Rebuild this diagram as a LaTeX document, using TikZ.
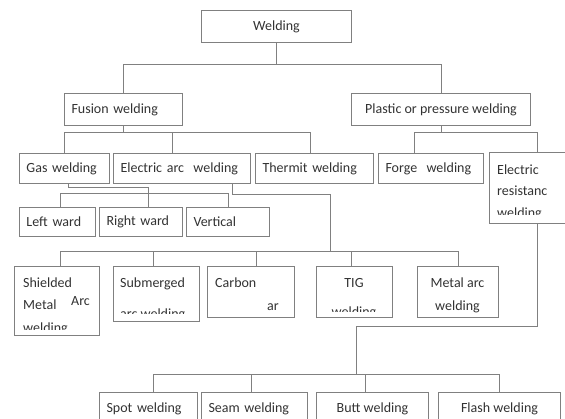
\documentclass[tikz,border=0pt]{standalone}
\usepackage{fontspec}
\setmainfont{Carlito}
\usepackage{tikz}
\definecolor{linegray}{RGB}{128,128,128}
\definecolor{txtgray}{RGB}{50,50,50}

\begin{document}
\begin{tikzpicture}[x=1pt,y=-1pt,
  box/.style={draw=linegray,line width=1pt,anchor=north west,inner ysep=0pt,inner xsep=7pt,
    font=\fontsize{14}{22}\selectfont,text=txtgray},
  lbox/.style={box,align=left},
  lbl/.style={anchor=base west,inner sep=0pt,font=\fontsize{14}{22}\selectfont,text=txtgray},
  clbl/.style={lbl,anchor=base},
  wire/.style={draw=linegray,line width=1pt}]
\path[use as bounding box] (0,0) rectangle (565,419);
\clip (0,0) rectangle (565,419);

% boxes
\node[box,minimum width=150pt,minimum height=32pt] (weld) at (201,10) {Welding};
\node[lbox,text width=104pt,minimum height=32pt] (fus) at (64,93) {Fusion welding};
\node[box,minimum width=179pt,minimum height=32pt] (plas) at (351,93) {Plastic or pressure welding};
\node[lbox,text width=76pt,minimum height=30pt] (gas) at (19,153) {Gas welding};
\node[lbox,text width=123pt,minimum height=30pt] (arc) at (113,153) {Electric arc\ \ welding};
\node[lbox,text width=104pt,minimum height=30pt] (therm) at (255,153) {Thermit welding};
\node[lbox,text width=91pt,minimum height=30pt] (forge) at (378,153) {Forge\ \ welding};
\node[box,minimum width=96pt,minimum height=71pt] (eres) at (489,152) {};
\node[lbox,text width=62pt,minimum height=29pt] (lward) at (19,207) {Left ward};
\node[lbox,text width=69pt,minimum height=29pt] (rward) at (99,207) {Right ward};
\node[lbox,text width=69pt,minimum height=29pt] (vert) at (186,207) {Vertical};
\node[box,minimum width=85pt,minimum height=69pt] (shield) at (14,266) {};
\node[box,minimum width=86pt,minimum height=55pt] (subm) at (113,266) {};
\node[box,minimum width=87pt,minimum height=51pt] (carb) at (207,266) {};
\node[box,minimum width=76pt,minimum height=51pt] (tig) at (316,266) {};
\node[box,minimum width=81pt,minimum height=51pt] (metal) at (417,266) {};
\node[lbox,text width=84pt,minimum height=32pt] (spot) at (99,392) {Spot welding};
\node[lbox,text width=92pt,minimum height=32pt] (seam) at (201,392) {Seam welding};
\node[box,minimum width=112pt,minimum height=32pt] (butt) at (316,392) {Butt welding};
\node[box,minimum width=122pt,minimum height=32pt] (flash) at (438,392) {Flash welding};

% texts of the tall boxes
\node[lbl] (er1) at (497,174.5) {Electric};
\node[lbl] (er2) at (497,195.5) {resistanc};
\begin{scope}
\clip (eres.north west) rectangle (565,215);
\node[lbl] (er3) at (497,218) {welding};
\end{scope}
\node[lbl] (sh1) at (23,287.5) {Shielded};
\node[lbl] (sh2) at (23,309.5) {Metal};
\node[lbl] (sh3) at (71,306) {Arc};
\begin{scope}
\clip (shield.north west) rectangle (99,330);
\node[lbl] (sh4) at (23,333) {welding};
\end{scope}
\node[lbl] (sm1) at (120,287.5) {Submerged};
\begin{scope}
\clip (subm.north west) rectangle (199,314);
\node[lbl] (sm2) at (120,319) {arc welding};
\end{scope}
\node[lbl] (cb1) at (215,287.5) {Carbon};
\node[lbl] (cb2) at (267,311) {ar};
\node[clbl] (tg1) at (354,287.5) {TIG};
\begin{scope}
\clip (tig.north west) rectangle (392,311.5);
\node[clbl] (tg2) at (354,317) {welding};
\end{scope}
\node[clbl] (mt1) at (457.5,287.5) {Metal arc};
\node[clbl] (mt2) at (457.5,310.5) {welding};

% connectors
\draw[wire] (weld.south) -- ++(0,22) coordinate (wj) -| (fus.north);
\draw[wire] (wj) -| (plas.north);
\draw[wire] (fus.south) -- ++(0,7) coordinate (fj) -| (gas.north);
\draw[wire] (fj) -| ([xshift=-9.5pt]arc.north);
\draw[wire] (fj) -| ([xshift=-4pt]therm.north);
\draw[wire] (plas.south) -- ++(0,7) coordinate (pj) -| ([xshift=-17pt]forge.north);
\draw[wire] (pj) -| (eres.north);

\draw[wire] ([xshift=4pt]gas.south) -- ++(0,4) -| ([xshift=7.5pt]rward.north);
\draw[wire] ([xshift=3pt]lward.north) -- ++(0,-13) -| (vert.north);

\coordinate (abus) at (330,252);
\draw[wire] ([xshift=50.5pt]arc.south) -- ++(0,11) -| (abus);
\draw[wire] ([xshift=3.5pt]shield.north) -- ++(0,-14) -| (metal.north);
\foreach \n/\s in {subm/-3,carb/5.5,tig/-3}
  \draw[wire] ([xshift=\s pt]\n.north) -- ++(0,-14);

\coordinate (rbus) at (356,375);
\draw[wire] (eres.south) -- ++(0,103) -| (rbus);
\draw[wire] ([xshift=5pt]spot.north) -- ++(0,-17) -| (flash.north);
\foreach \n/\s in {seam/-3,butt/-7}
  \draw[wire] ([xshift=\s pt]\n.north) -- ++(0,-17);
\end{tikzpicture}
\end{document}
